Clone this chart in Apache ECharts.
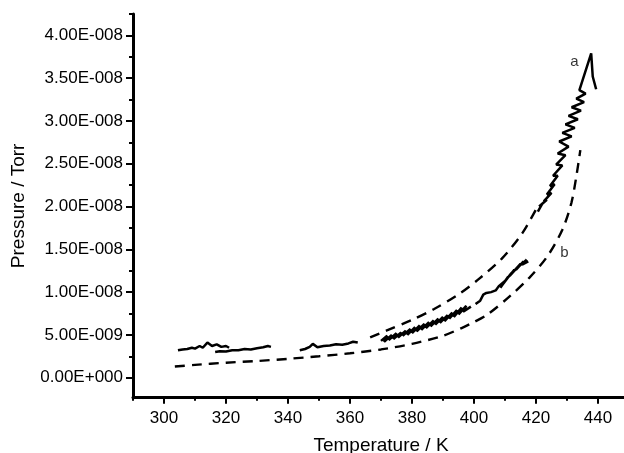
<!DOCTYPE html>
<html>
<head>
<meta charset="utf-8">
<script src="https://cdn.jsdelivr.net/npm/echarts@6/dist/echarts.min.js"></script>
<style>
  html, body { margin: 0; padding: 0; background: #fff; }
  #chart { width: 624px; height: 453px; }
</style>
</head>
<body>
<div id="chart"></div>
<script>
// pressure values are in units of 1E-009 Torr
const xMajor = [300, 320, 340, 360, 380, 400, 420, 440]
const xMinor = [290, 310, 330, 350, 370, 390, 410, 430, 450]
const yMajor = [0, 5, 10, 15, 20, 25, 30, 35, 40]
const yMinor = [2.5, 7.5, 12.5, 17.5, 22.5, 27.5, 32.5, 37.5, 42.5]

// curve a, measured (separate runs)
const aRun1 = [[304.5, 3.2], [306, 3.3], [307.5, 3.35], [309, 3.5], [310, 3.4], [311.5, 3.7], [312.5, 3.5], [314, 4.1], [315.5, 3.7], [317, 3.9], [318.5, 3.6], [320, 3.7], [321, 3.5]]
const aRun2 = [[316.5, 3.0], [318, 3.1], [320, 3.05], [322, 3.2], [324, 3.2], [326, 3.35], [328, 3.3], [330, 3.45], [332, 3.55], [333.5, 3.7], [334.5, 3.6]]
const aRun3 = [[343.8, 3.2], [345.5, 3.35], [347, 3.6], [348, 3.95], [349.5, 3.55], [351.5, 3.7], [353.5, 3.75], [355.5, 3.9], [357.5, 3.85], [359.5, 4.0], [361, 4.2], [362.5, 4.1]]
const aRun4 = [[370, 4.3], [372, 4.9], [371, 4.2], [373.5, 5.0], [372.5, 4.4], [375, 5.2], [374, 4.5], [376.5, 5.3], [375.5, 4.7], [378, 5.5], [377, 4.9], [379.5, 5.7], [378.5, 5.0], [381, 5.9], [380, 5.2], [382.5, 6.1], [381.5, 5.4], [384, 6.3], [383, 5.6], [385.5, 6.5], [384.5, 5.8], [387, 6.7], [386, 6.0], [388.5, 6.9], [387.5, 6.2], [390, 7.1], [389, 6.4], [391.5, 7.3], [390.5, 6.6], [393, 7.6], [392, 6.9], [394.5, 7.9], [393.5, 7.1], [396, 8.2], [395, 7.4], [397.5, 8.4], [396.5, 7.7], [399, 8.3]]
const aRun5 = [[400.5, 8.6], [402, 9.0], [403, 9.7], [404, 9.9], [405.5, 10.0], [407, 10.2], [408, 10.7], [410, 11.3], [408.5, 10.5], [411, 11.8], [409.5, 11.0], [412, 12.2], [410.5, 11.5], [413, 12.6], [411.5, 11.9], [414, 12.9], [412.5, 12.3], [415, 13.3], [413.5, 12.6], [416, 13.6], [414.5, 13.0], [417, 13.8], [415.5, 13.2], [417.5, 13.6]]
const aRun6 = [[420.6, 19.4], [422, 20.3], [421, 20.0], [423.5, 20.8], [422.5, 20.6], [425, 21.6], [423.5, 21.4], [426, 22.6], [424.5, 22.4], [427, 23.6], [425.5, 23.6], [428.5, 24.8], [426.5, 24.9], [429.5, 26.0], [427, 26.2], [430.5, 27.0], [427.5, 27.6], [431.5, 28.2], [428.5, 28.6], [432.5, 29.2], [429.5, 29.6], [433.5, 30.2], [430.5, 30.6], [434.5, 31.2], [431.5, 31.6], [435.5, 32.2], [433, 32.6], [436, 33.2], [434, 33.6], [437.8, 37.9], [438.3, 35.2], [439.4, 33.7]]

// fitted curves
const fitUpper = [[366.5, 4.7], [371.7, 5.5], [380, 6.75], [387, 8.0], [395.3, 9.8], [401.8, 11.6], [409.2, 14.0], [415.6, 16.9], [420.5, 20.0]]
const fitB = [[303.5, 1.3], [310, 1.5], [320, 1.75], [330, 1.95], [340, 2.2], [350, 2.5], [360, 2.85], [370, 3.3], [380, 3.95], [390, 4.9], [396, 5.8], [400, 6.5], [404.4, 7.4], [411.5, 9.5], [417.9, 11.7], [423.7, 14.2], [428.5, 17.3], [431.4, 20.4], [433, 23.5], [434.3, 26.6]]

const curveLabels = [{ text: 'a', at: [432.4, 36.9] }, { text: 'b', at: [429.2, 14.6] }]

const FONT = 'Liberation Sans'

function sci(v) {
  if (Math.abs(v) < 1e-9) return '0.00E+000'
  const x = v * 1e-9
  let e = Math.floor(Math.log10(x))
  let m = x / Math.pow(10, e)
  if (m >= 9.995) { m /= 10; e++ }
  if (m < 1) { m *= 10; e-- }
  return m.toFixed(2) + 'E' + (e < 0 ? '-' : '+') + String(Math.abs(e)).padStart(3, '0')
}

const solid = (data) => ({
  type: 'line', data, showSymbol: false, symbol: 'none',
  lineStyle: { color: '#000', width: 2.5 }, z: 3
})
const dashed = (data) => ({
  type: 'line', data, symbol: 'none', smooth: 0.3,
  lineStyle: { color: '#000', width: 2.4, type: [10, 7] }, z: 2
})

const chart = echarts.init(document.getElementById('chart'))
chart.setOption({
  animation: false,
  backgroundColor: '#fff',
  grid: { left: 133, top: 14, width: 496, height: 383.7, outerBoundsMode: 'none', containLabel: false },
  xAxis: [{
    type: 'value', min: 290, max: 450,
    name: 'Temperature / K', nameLocation: 'middle', nameGap: 39,
    nameTextStyle: { fontFamily: FONT, fontSize: 19, color: '#000' },
    axisLine: { show: true, onZero: false, lineStyle: { color: '#000', width: 3 } },
    axisTick: { show: true, customValues: xMajor, length: 6, lineStyle: { color: '#000', width: 2 } },
    axisLabel: { customValues: xMajor, fontFamily: FONT, fontSize: 17, color: '#000', margin: 12 },
    splitLine: { show: false }
  }, {
    type: 'value', min: 290, max: 450, position: 'bottom',
    axisLine: { show: false, onZero: false },
    axisTick: { show: true, customValues: xMinor, length: 3, lineStyle: { color: '#000', width: 2 } },
    axisLabel: { show: false },
    splitLine: { show: false }
  }],
  yAxis: [{
    type: 'value', min: -2.34, max: 42.5,
    name: 'Pressure / Torr', nameLocation: 'middle', nameGap: 105,
    nameTextStyle: { fontFamily: FONT, fontSize: 19, color: '#000' },
    axisLine: { show: true, onZero: false, lineStyle: { color: '#000', width: 3 } },
    axisTick: { show: true, customValues: yMajor, length: 7, lineStyle: { color: '#000', width: 2 } },
    axisLabel: { customValues: yMajor, formatter: sci, fontFamily: FONT, fontSize: 17, color: '#000', margin: 10 },
    splitLine: { show: false }
  }, {
    type: 'value', min: -2.34, max: 42.5, position: 'left',
    axisLine: { show: false, onZero: false },
    axisTick: { show: true, customValues: yMinor, length: 4, lineStyle: { color: '#000', width: 2 } },
    axisLabel: { show: false },
    splitLine: { show: false }
  }],
  series: [
    solid(aRun1), solid(aRun2), solid(aRun3), solid(aRun4), solid(aRun5), solid(aRun6),
    dashed(fitUpper), dashed(fitB),
    {
      type: 'scatter', symbolSize: 0, z: 4,
      data: curveLabels.map(d => ({ value: d.at, name: d.text })),
      label: {
        show: true, position: 'inside', formatter: p => p.name,
        fontFamily: FONT, fontSize: 15, color: '#000'
      }
    }
  ]
})
</script>
</body>
</html>
